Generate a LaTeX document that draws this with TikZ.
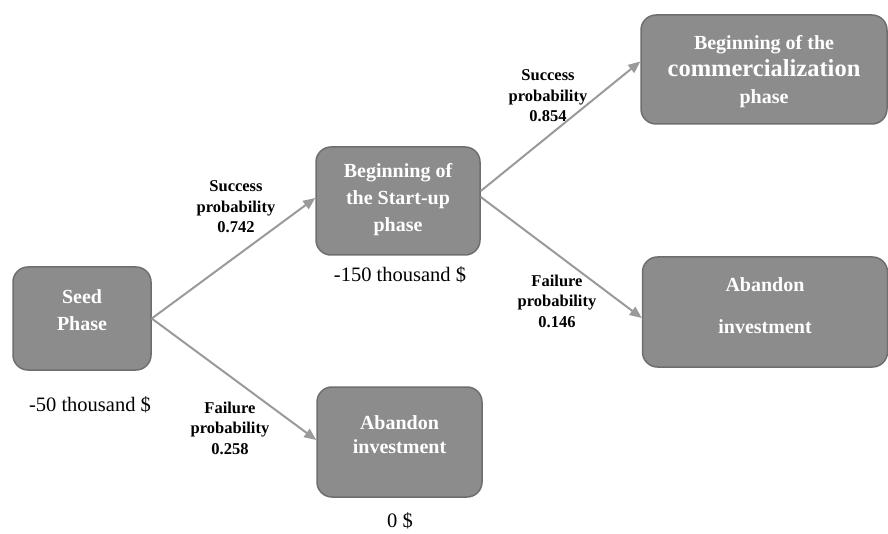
\documentclass[tikz,border=0pt]{standalone}
\usepackage{fontspec}
\setmainfont{Liberation Serif}
\usetikzlibrary{calc, arrows.meta}

\definecolor{boxgray}{HTML}{8C8C8C}
\definecolor{edgegray}{HTML}{6E6E6E}
\definecolor{linegray}{HTML}{9A9A9A}

\begin{document}
\begin{tikzpicture}[x=1pt, y=-1pt,
        phase/.style={draw=edgegray, line width=1.5pt, fill=boxgray, rounded corners=15pt, inner sep=0pt},
        phasetext/.style={text=white, font=\bfseries\fontsize{20}{27}\selectfont, align=center, inner sep=0pt},
        prob/.style={font=\bfseries\fontsize{16.5}{20.5}\selectfont, align=center, inner sep=0pt},
        cost/.style={font=\fontsize{20.5}{24}\selectfont, inner sep=0pt},
        branch/.style={draw=linegray, line width=2pt, -{Triangle[length=12pt, width=10pt]}}]
        \useasboundingbox (0,0) rectangle (888,534);
        \coordinate (s) at (82,318.5);
        \coordinate (u) at (398,201);
        \coordinate (c) at (764,69.5);
        \coordinate (r) at (765,312);
        \coordinate (b) at (399.5,442);
        \node[phase, minimum width=138pt, minimum height=103pt] (seed) at (s) {};
        \node[phase, minimum width=164pt, minimum height=108pt] (startup) at (u) {};
        \node[phase, minimum width=246pt, minimum height=109pt] (comm) at (c) {};
        \node[phase, minimum width=245pt, minimum height=110pt] (abandonr) at (r) {};
        \node[phase, minimum width=165pt, minimum height=110pt] (abandonb) at (b) {};
        \node[phasetext] (seedtext) at ($(s)+(0,-8)$) {Seed\\Phase};
        \node[phasetext] (startuptext) at ($(u)+(0,-1)$) {Beginning of\\the Start-up\\phase};
        \node[phasetext] (commtext) at ($(c)+(0,2)$) {Beginning of the\\{\fontsize{24.5}{27}\selectfont commercialization}\\phase};
        \node[phasetext, font=\bfseries\fontsize{20}{42}\selectfont] (abandonrtext) at ($(r)+(0,-6)$) {Abandon\\investment};
        \node[phasetext, font=\bfseries\fontsize{20}{24}\selectfont] (abandonbtext) at ($(b)+(0,-7)$) {Abandon\\investment};
        \draw[branch] (seed.east) -- ([yshift=3pt]startup.west);
        \draw[branch] (seed.east) -- ([yshift=2pt]abandonb.west);
        \draw[branch] ([yshift=10pt]startup.east) -- ([yshift=8pt]comm.west);
        \draw[branch] ([yshift=4pt]startup.east) -- ([yshift=-6pt]abandonr.west);
        \node[prob] (p742) at (236,207) {Success\\probability\\0.742};
        \node[prob] (p258) at (230,428) {Failure\\probability\\0.258};
        \node[prob] (p854) at (548,96) {Success\\probability\\0.854};
        \node[prob] (p146) at (557,301) {Failure\\probability\\0.146};
        \node[cost] (c50) at (90,405) {-50 thousand \$};
        \node[cost] (c150) at (400,275) {-150 thousand \$};
        \node[cost] (c0) at (400,521) {0 \$};
    \end{tikzpicture}
\end{document}
